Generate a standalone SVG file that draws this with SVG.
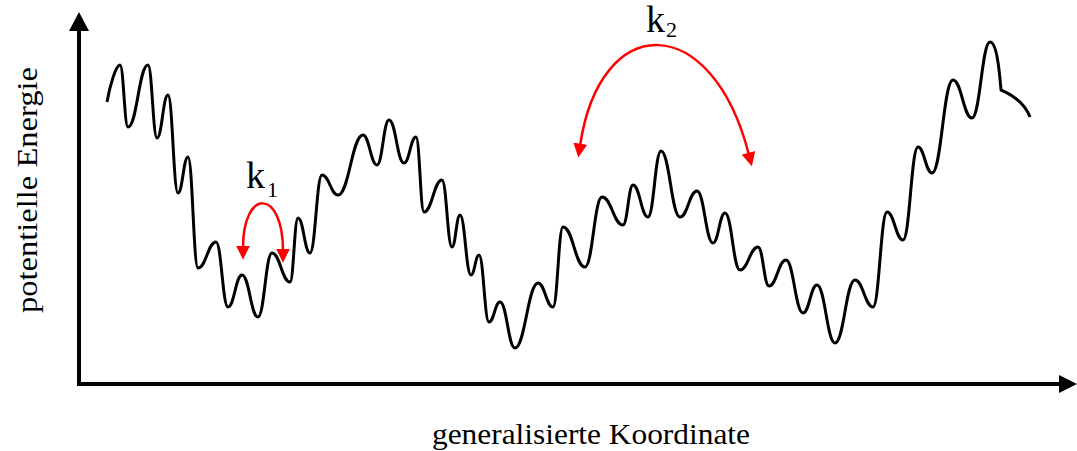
<svg xmlns="http://www.w3.org/2000/svg" width="1077" height="451" viewBox="0 0 1077 451">
<style>
.axis{stroke:#000;stroke-width:4;fill:none}
.curve{stroke:#000;stroke-width:3;fill:none;stroke-linejoin:round}
.rate{stroke:#ff0000;stroke-width:2.5;fill:none}
.lbl{font-family:"Liberation Serif","Times New Roman",serif;fill:#000}
</style>
<defs>
<marker id="ah" viewBox="0 0 12 12" refX="2" refY="6" markerWidth="14" markerHeight="14" markerUnits="userSpaceOnUse" orient="auto-start-reverse">
<path d="M0,0 L12,6 L0,12 z" fill="#ff0000"/>
</marker>
</defs>
<g id="axes">
<line class="axis" x1="79" y1="386" x2="79" y2="28"/>
<polygon points="79,12 69,31 89,31" fill="#000"/>
<line class="axis" x1="77" y1="384" x2="1060" y2="384"/>
<polygon points="1077,384 1059,375 1059,393" fill="#000"/>
</g>
<g id="energy-curve">
<path class="curve" d="M107,102 C110,85 116,65 120,65
C123.6,65 124.4,127 128,127
C137,127 139,65 148,65
C152,65 153,138 157,138
C162,138 163,95 168,95
C172.5,95 173.5,193 178,193
C182.5,193 183.5,157 188,157
C192.5,157 193.5,268 198,268
C206,268 208,242 216,242
C221.4,242 222.6,307 228,307
C234.3,307 235.7,275 242,275
C249.2,275 250.8,317 258,317
C264.3,317 265.7,253 272,253
C280,253 282,282 290,282
C293.6,282 294.4,218 298,218
C303.4,218 304.6,253 310,253
C315.4,253 316.6,175 322,175
C329.2,175 330.8,195 338,195
C349,195 352,135 363,135
C369.3,135 370.7,165 377,165
C382.4,165 383.6,120 389,120
C395.8,120 397.2,163 404,163
C409.4,163 410.6,137 416,137
C419.6,137 420.4,212 424,212
C432,212 434,180 442,180
C446.5,180 447.5,247 452,247
C455.6,247 456.4,215 460,215
C465,215 466,275 471,275
C474.6,275 475.4,255 479,255
C483.5,255 484.5,322 489,322
C494,322 495,302 500,302
C506.8,302 508.2,348 515,348
C525,348 528,283 538,283
C544.8,283 546.2,307 553,307
C557.5,307 558.5,227 563,227
C573,227 575,267 585,267
C592.6,267 594.4,197 602,197
C611.5,197 613.5,225 623,225
C627.5,225 628.5,185 633,185
C639.8,185 641.2,217 648,217
C653.8,217 655.2,151 661,151
C669.5,151 671.5,217 680,217
C687.6,217 689.4,191 697,191
C704.2,191 705.8,243 713,243
C718.4,243 719.6,213 725,213
C731.8,213 733.2,270 740,270
C748,270 750,247 758,247
C763,247 764,286 769,286
C776.6,286 778.4,260 786,260
C793.6,260 795.4,313 803,313
C809.3,313 810.7,285 817,285
C825,285 827,343 835,343
C844,343 846,280 855,280
C863,280 865,307 873,307
C879.3,307 880.7,212 887,212
C894.2,212 895.8,240 903,240
C909.8,240 911.2,147 918,147
C924.3,147 925.7,173 932,173
C941.5,173 943.5,80 953,80
C961.5,80 963.5,118 972,118
C980,118 982,42 990,42
C996,42 999,65 1001,90
C1015,96 1025,104 1030,117"/>
</g>
<g id="connectors">
<path id="k1-arrow" class="rate" d="M243,248 C243,188 283,188 283,251" marker-start="url(#ah)" marker-end="url(#ah)"/>
<path id="k2-arrow" class="rate" d="M580,146 C600,10 712,10 749,155" marker-start="url(#ah)" marker-end="url(#ah)"/>
</g>
<g id="labels">
<text class="lbl" transform="translate(37,190) rotate(-90)" text-anchor="middle" font-size="29" textLength="246" lengthAdjust="spacingAndGlyphs">potentielle Energie</text>
<text class="lbl" x="432" y="444" font-size="29" textLength="318" lengthAdjust="spacingAndGlyphs">generalisierte Koordinate</text>
<text class="lbl" x="246" y="188" font-size="38">k</text>
<text class="lbl" x="267" y="197" font-size="22">1</text>
<text class="lbl" x="646" y="32" font-size="38">k</text>
<text class="lbl" x="666" y="37" font-size="22">2</text>
</g>
</svg>
